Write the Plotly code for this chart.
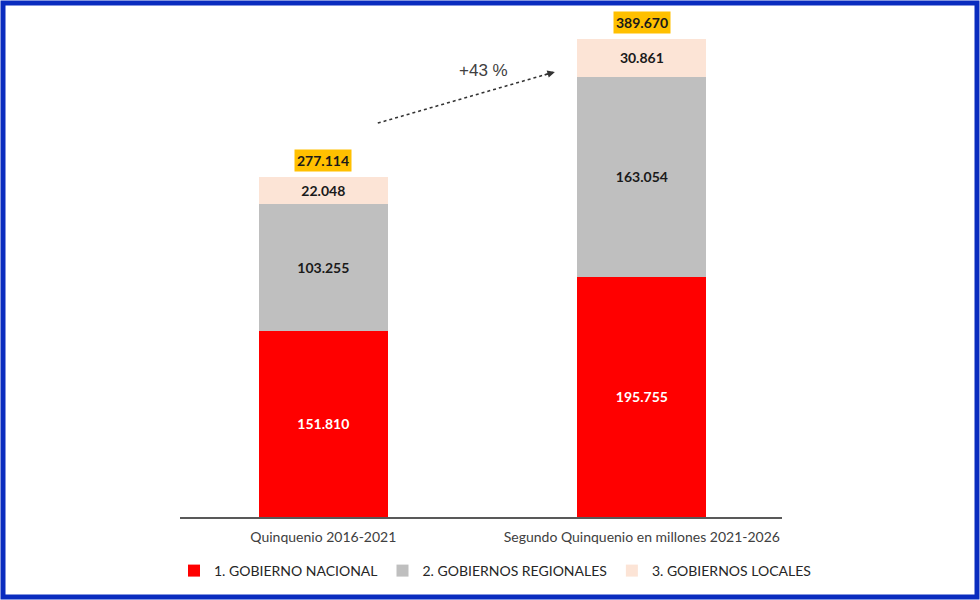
import plotly.graph_objects as go

# datos (millones)
categorias = ["Quinquenio 2016-2021", "Segundo Quinquenio en millones 2021-2026"]
nacional = [151.810, 195.755]
regionales = [103.255, 163.054]
locales = [22.048, 30.861]
totales = [277.114, 389.670]
variacion = "+43 %"

series = [
    ("1. GOBIERNO NACIONAL", nacional, "#ff0000", "white"),
    ("2. GOBIERNOS REGIONALES", regionales, "#bfbfbf", "#1a1a1a"),
    ("3. GOBIERNOS LOCALES", locales, "#fce4d6", "#1a1a1a"),
]

fig = go.Figure()
for nombre, vals, color, txtcolor in series:
    fig.add_trace(go.Bar(
        x=categorias, y=vals, name=nombre,
        marker=dict(color=color, line=dict(width=0)),
        text=["%.3f" % v for v in vals],
        textposition="inside", insidetextanchor="middle",
        textfont=dict(family="Lato", size=14, color=txtcolor, weight="bold"),
        width=0.405,
    ))

# totales en caja naranja
for i, t in enumerate(totales):
    fig.add_annotation(x=i, y=t, text="<b>%.3f</b>" % t, showarrow=False,
                       yanchor="bottom", yshift=5, bgcolor="#ffc000",
                       borderpad=2, font=dict(family="Lato", size=14, color="#1a1a1a"))

# flecha punteada de crecimiento
fig.add_shape(type="line", xref="x", yref="y", x0=0.171, y0=321, x1=0.72, y1=362.2,
              line=dict(color="#333333", width=1.5, dash="dot"))
fig.add_annotation(x=0.727, y=362.7, ax=0.69, ay=359.9, xref="x", yref="y",
                   axref="x", ayref="y", text="", showarrow=True,
                   arrowhead=2, arrowsize=1, arrowwidth=1.5, arrowcolor="#333333")
fig.add_annotation(x=0.504, y=364, text=variacion, showarrow=False,
                   font=dict(family="Liberation Sans", size=17, color="#404040"))

# marco azul
W, H, L, R, T, B = 980, 600, 180, 198, 20, 83
pw, ph = W - L - R, H - T - B
fig.add_shape(type="rect", xref="paper", yref="paper",
              x0=(3 - L) / pw, x1=(977 - L) / pw,
              y0=(H - B - 597) / ph, y1=(H - B - 3) / ph,
              line=dict(color="#0a2cbf", width=5), fillcolor="rgba(0,0,0,0)")

fig.update_layout(
    width=W, height=H,
    barmode="stack",
    plot_bgcolor="white", paper_bgcolor="white",
    margin=dict(l=L, r=R, t=T, b=B, autoexpand=False),
    font=dict(family="Lato", size=14, color="#404040"),
    showlegend=True,
    legend=dict(orientation="h", x=(174 - L) / pw, xanchor="left",
                y=(H - B - 571) / ph, yanchor="middle",
                bgcolor="rgba(0,0,0,0)",
                font=dict(family="Lato", size=14, color="#262626"),
                traceorder="normal", itemwidth=30),
    xaxis=dict(range=[-0.45, 1.44], showline=True, linecolor="#595959", linewidth=1.5,
               ticks="", showgrid=False, ticklabelstandoff=6,
               tickfont=dict(size=14, color="#404040")),
    yaxis=dict(range=[0, 405], visible=False, showgrid=False),
)

fig.write_html("out.html", config={"displayModeBar": False},
               post_script="document.body.style.margin='0';")
